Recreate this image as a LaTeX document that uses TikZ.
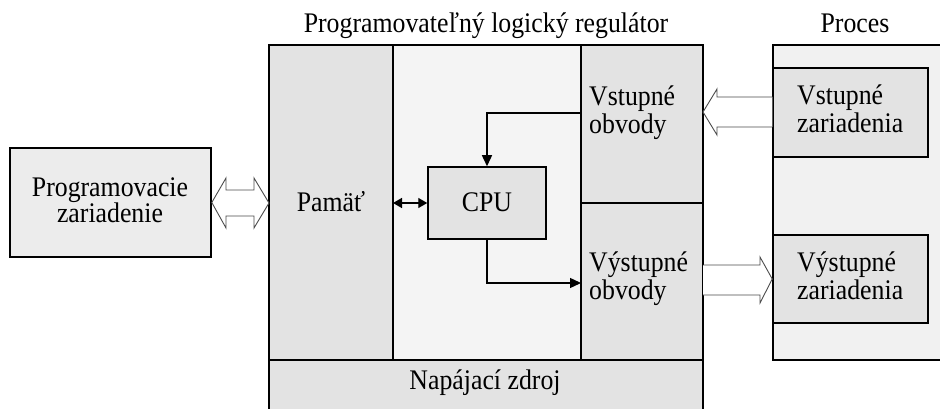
\documentclass[tikz,border=0pt]{standalone}
\usepackage{fontspec}
\setmainfont{Liberation Serif}
\usetikzlibrary{arrows.meta}
\newcommand\TT[2]{\scalebox{1}[1.1]{\begin{tabular}[t]{@{}#1@{}}#2\end{tabular}}}
\begin{document}
\begin{tikzpicture}[x=1pt,y=-1pt,
  lbl/.style={font=\fontsize{25.8}{26}\selectfont, inner sep=0pt},
  blk/.style={draw=black, line width=1.5pt, fill=gray!22},
  light/.style={draw=black, line width=1.5pt, fill=gray!9},
  hollow/.style={draw=gray!60!black, line width=0.9pt, fill=white},
  conn/.style={line width=1.4pt, -{Triangle[length=11pt,width=10pt]}}
]
\useasboundingbox (0,0) rectangle (940,409);
% PLC
\fill[gray!22] (269,45) rectangle (703,415);
\draw[blk] (269,45) rectangle (393,360);
\draw[light] (393,45) rectangle (581,360);
\draw[blk] (581,45) rectangle (703,203);
\draw[blk] (581,203) rectangle (703,360);
\draw[blk] (269,360) rectangle (703,415);
\draw[line width=2pt] (269,415) -- (269,45) -- (703,45) -- (703,415);
\node[lbl, anchor=base] (plc) at (486,33) {\TT{c}{Programovateľný logický regulátor}};
\node[lbl, anchor=base] (mem) at (331,211.5) {\TT{c}{Pamäť}};
\node[lbl, anchor=base west] (vst) at (589,106) {\TT{l}{Vstupné\\[-1pt]obvody}};
\node[lbl, anchor=base west] (vys) at (589,271.5) {\TT{l}{Výstupné\\[-1pt]obvody}};
\node[lbl, anchor=base] (psu) at (485,389) {\TT{c}{Napájací zdroj}};
% CPU
\node[blk, minimum width=118pt, minimum height=72pt, inner sep=0pt] (cpu) at (487,203) {};
\node[lbl, anchor=base] (cputxt) at (487,211.7) {\TT{c}{CPU}};
\coordinate (vin) at (581,113);
\coordinate (vout) at (581,283);
\coordinate (memr) at (393,203);
\draw[conn] (vin) -| (cpu.north);
\draw[conn] (cpu.south) |- (vout);
\draw[line width=1.4pt, {Triangle[length=9pt,width=10pt]}-{Triangle[length=9pt,width=10pt]}] (memr) -- (cpu.west);
% Programovacie zariadenie
\node[blk, line width=1.6pt, fill=gray!15, minimum width=201pt, minimum height=109pt, inner sep=0pt] (prog) at (110.5,202.5) {};
\node[lbl, anchor=base] (progtxt) at (110,196.5) {\TT{c}{Programovacie\\[-2pt]zariadenie}};
% double hollow arrow
\draw[hollow] (prog.east) -- (226,178) -- (226,190) -- (254,190) -- (254,178) -- (269,203)
  -- (254,228) -- (254,216) -- (226,216) -- (226,228) -- cycle;
% Proces
\fill[gray!11] (773,45) rectangle (945,360);
\draw[line width=1.5pt] (945,45) -- (773,45) -- (773,360) -- (945,360);
\node[lbl, anchor=base] (proc) at (855,33) {\TT{c}{Proces}};
\node[blk, minimum width=155pt, minimum height=89pt, inner sep=0pt] (vz) at (850.5,112.5) {};
\node[lbl, anchor=base west] (vztxt) at (797,105) {\TT{l}{Vstupné\\[-1pt]zariadenia}};
\node[blk, minimum width=155pt, minimum height=88pt, inner sep=0pt] (yz) at (850.5,279) {};
\node[lbl, anchor=base west] (yztxt) at (797,271.7) {\TT{l}{Výstupné\\[-1pt]zariadenia}};
% input hollow arrow (pointing left)
\draw[hollow] (vz.west |- 0,97) -- (717,97) -- (717,89) -- (703,112) -- (717,135) -- (717,127) -- (vz.west |- 0,127);
% output hollow arrow (pointing right)
\draw[hollow] (703,265) -- (760,265) -- (760,257) -- (yz.west) -- (760,303) -- (760,295) -- (703,295);
\end{tikzpicture}
\end{document}
